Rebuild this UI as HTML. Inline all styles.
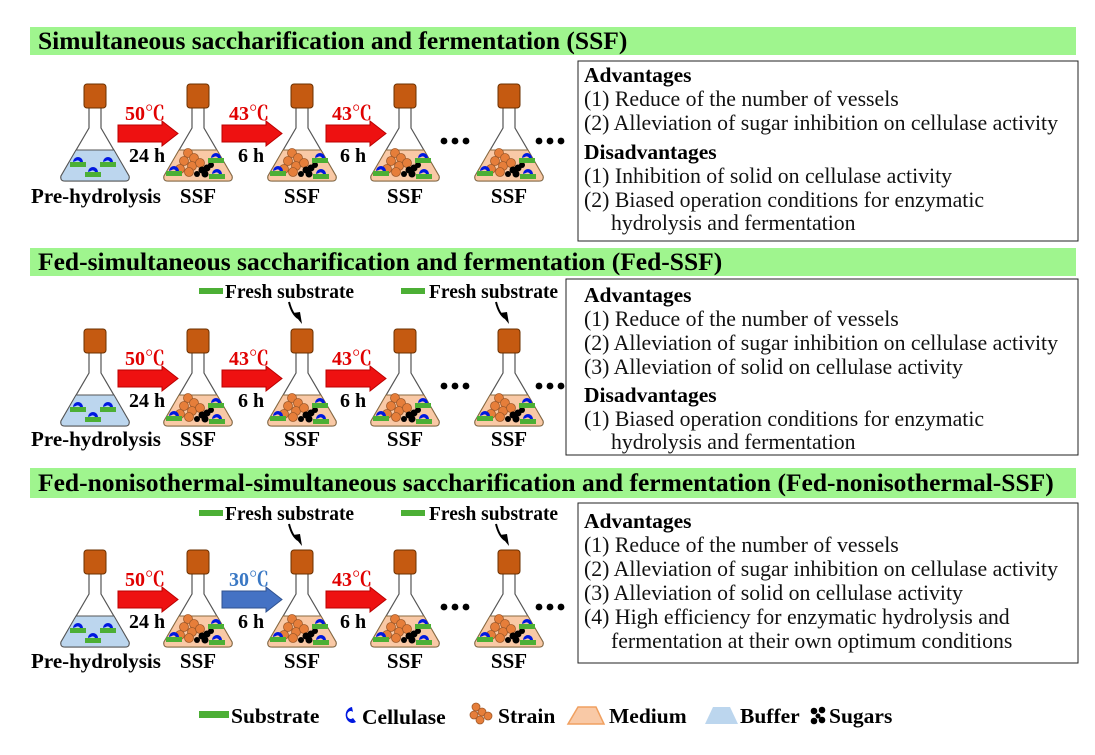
<!DOCTYPE html>
<html><head><meta charset="utf-8"><style>
body{margin:0;background:#fff}
svg text{font-family:"Liberation Serif","Noto Serif CJK SC",serif}
.h{font-size:25.5px;font-weight:bold}
.b{font-size:21.8px;fill:#111}
.bb{font-size:21.5px;font-weight:bold}
.lab{font-size:21px;font-weight:bold;text-anchor:middle}
.t{font-size:20px;font-weight:bold;fill:#e00000}
.tb{font-size:20px;font-weight:bold;fill:#3a78c4}
.hr{font-size:20px;font-weight:bold}
.fs{font-size:19.5px;font-weight:bold}
.lg{font-size:21.5px;font-weight:bold}
</style></head><body>
<svg width="1095" height="750" viewBox="0 0 1095 750" xmlns="http://www.w3.org/2000/svg">
<defs>
<g id="cap"><rect x="-11" y="-24" width="22" height="24" rx="3" fill="#c55a11" stroke="#6b3000" stroke-width="1"/></g>
<g id="body"><path d="M-6,0 L-6,20 L-34,68 Q-35,73 -30,73 L30,73 Q35,73 34,68 L6,20 L6,0" fill="#fff" stroke="#555" stroke-width="1.2"/></g>
<g id="cel"><rect x="-8" y="0" width="16" height="5" fill="#4caf35"/><path d="M-5,0 A5,5 0 1 1 5,0 L2,0 A2.5,2.5 0 0 0 -2,-1 Z" fill="#0018e0"/></g>
<g id="fB"><use href="#body"/><path d="M-19,42 L-34,68 Q-35,73 -30,73 L30,73 Q35,73 34,68 L19,42 Z" fill="#bcd6ee" stroke="#555" stroke-width="1"/><use href="#cap"/>
<use href="#cel" x="-17" y="54"/><use href="#cel" x="13" y="54"/><use href="#cel" x="-2" y="64"/></g>
<g id="fM"><use href="#body"/><path d="M-19,42 L-34,68 Q-35,73 -30,73 L30,73 Q35,73 34,68 L19,42 Z" fill="#f9c9a6" stroke="#8a6a40" stroke-width="1"/><use href="#cap"/>
<g fill="#e67e3a" stroke="#a05a2a" stroke-width="0.8"><circle cx="-10" cy="45" r="4.5"/><circle cx="-4" cy="50" r="4.5"/><circle cx="-14" cy="53" r="4.5"/><circle cx="-6" cy="58" r="4.5"/><circle cx="2" cy="55" r="4.5"/><circle cx="-18" cy="61" r="4.5"/><circle cx="-9" cy="64" r="4.5"/></g>
<g fill="#000"><circle cx="4" cy="62" r="3.5"/><circle cx="9" cy="60" r="3.5"/><circle cx="7" cy="66" r="3.5"/><circle cx="13" cy="57" r="3"/><circle cx="-1" cy="66" r="3"/></g>
<use href="#cel" x="18" y="50"/><use href="#cel" x="-24" y="63"/><use href="#cel" x="19" y="66"/></g>
<g id="arR"><path d="M0,-8.5 L44,-8.5 L44,-12.5 L60,0 L44,12.5 L44,8.5 L0,8.5 Z" fill="#ee1111" stroke="#b00" stroke-width="1"/></g>
<g id="arB"><path d="M0,-8.5 L44,-8.5 L44,-12.5 L60,0 L44,12.5 L44,8.5 L0,8.5 Z" fill="#4472c4" stroke="#2f528f" stroke-width="1"/></g>
<g id="dots"><circle cx="0" cy="0" r="3.4"/><circle cx="11" cy="0" r="3.4"/><circle cx="22" cy="0" r="3.4"/></g>
</defs>

<rect x="30" y="27" width="1046" height="28" fill="#9ff58e"/>
<text class="h" x="38" y="49">Simultaneous saccharification and fermentation (SSF)</text>
<rect x="30" y="248" width="1046" height="28" fill="#9ff58e"/>
<text class="h" x="38" y="270">Fed-simultaneous saccharification and fermentation (Fed-SSF)</text>
<rect x="30" y="468" width="1046" height="30" fill="#9ff58e"/>
<text class="h" x="38" y="491">Fed-nonisothermal-simultaneous saccharification and fermentation (Fed-nonisothermal-SSF)</text>

<g transform="translate(0,108)">
<use href="#fB" x="95"/><use href="#fM" x="198"/><use href="#fM" x="302"/><use href="#fM" x="405"/><use href="#fM" x="509"/>
<use href="#arR" x="118" y="25.5"/><use href="#arR" x="222" y="25.5"/><use href="#arR" x="326" y="25.5"/>
<text class="t" x="125" y="12">50℃</text><text class="t" x="229" y="12">43℃</text><text class="t" x="332" y="12">43℃</text>
<text class="hr" x="129" y="54">24 h</text><text class="hr" x="238" y="54">6 h</text><text class="hr" x="340" y="54">6 h</text>
<use href="#dots" x="444" y="33"/><use href="#dots" x="539" y="33"/>
<text class="lab" x="96" y="95">Pre-hydrolysis</text><text class="lab" x="198" y="95">SSF</text><text class="lab" x="302" y="95">SSF</text><text class="lab" x="405" y="95">SSF</text><text class="lab" x="509" y="95">SSF</text>
</g>
<rect x="578" y="61" width="500" height="180" fill="#fff" stroke="#222" stroke-width="1"/>
<text class="bb" x="584" y="82">Advantages</text>
<text class="b" x="584" y="106">(1) Reduce of the number of vessels</text>
<text class="b" x="584" y="130">(2) Alleviation of sugar inhibition on cellulase activity</text>
<text class="bb" x="584" y="159">Disadvantages</text>
<text class="b" x="584" y="183">(1) Inhibition of solid on cellulase activity</text>
<text class="b" x="584" y="207">(2) Biased operation conditions for enzymatic</text>
<text class="b" x="611" y="230">hydrolysis and fermentation</text>

<g transform="translate(0,353)">
<use href="#fB" x="95"/><use href="#fM" x="198"/><use href="#fM" x="302"/><use href="#fM" x="405"/><use href="#fM" x="509"/>
<use href="#arR" x="118" y="25.5"/><use href="#arR" x="222" y="25.5"/><use href="#arR" x="326" y="25.5"/>
<text class="t" x="125" y="12">50℃</text><text class="t" x="229" y="12">43℃</text><text class="t" x="332" y="12">43℃</text>
<text class="hr" x="129" y="54">24 h</text><text class="hr" x="238" y="54">6 h</text><text class="hr" x="340" y="54">6 h</text>
<use href="#dots" x="444" y="33"/><use href="#dots" x="539" y="33"/>
<text class="lab" x="96" y="93">Pre-hydrolysis</text><text class="lab" x="198" y="93">SSF</text><text class="lab" x="302" y="93">SSF</text><text class="lab" x="405" y="93">SSF</text><text class="lab" x="509" y="93">SSF</text>
</g>
<g>
<rect x="199" y="288" width="24" height="6" fill="#4caf35"/><text class="fs" x="225" y="298">Fresh substrate</text>
<rect x="401" y="288" width="24" height="6" fill="#4caf35"/><text class="fs" x="429" y="298">Fresh substrate</text>
<path d="M289,302 Q292,314 298,318" fill="none" stroke="#000" stroke-width="2"/><path d="M293,313 L302,324 L300,312 Z" fill="#000"/>
<path d="M496,302 Q499,314 505,318" fill="none" stroke="#000" stroke-width="2"/><path d="M500,313 L509,324 L507,312 Z" fill="#000"/>
</g>
<rect x="566" y="279" width="512" height="176" fill="#fff" stroke="#222" stroke-width="1"/>
<text class="bb" x="584" y="302">Advantages</text>
<text class="b" x="584" y="326">(1) Reduce of the number of vessels</text>
<text class="b" x="584" y="350">(2) Alleviation of sugar inhibition on cellulase activity</text>
<text class="b" x="584" y="374">(3) Alleviation of solid on cellulase activity</text>
<text class="bb" x="584" y="402">Disadvantages</text>
<text class="b" x="584" y="426">(1) Biased operation conditions for enzymatic</text>
<text class="b" x="611" y="449">hydrolysis and fermentation</text>

<g transform="translate(0,574)">
<use href="#fB" x="95"/><use href="#fM" x="198"/><use href="#fM" x="302"/><use href="#fM" x="405"/><use href="#fM" x="509"/>
<use href="#arR" x="118" y="25.5"/><use href="#arB" x="222" y="25.5"/><use href="#arR" x="326" y="25.5"/>
<text class="t" x="125" y="12">50℃</text><text class="tb" x="229" y="12">30℃</text><text class="t" x="332" y="12">43℃</text>
<text class="hr" x="129" y="54">24 h</text><text class="hr" x="238" y="54">6 h</text><text class="hr" x="340" y="54">6 h</text>
<use href="#dots" x="444" y="33"/><use href="#dots" x="539" y="33"/>
<text class="lab" x="96" y="94">Pre-hydrolysis</text><text class="lab" x="198" y="94">SSF</text><text class="lab" x="302" y="94">SSF</text><text class="lab" x="405" y="94">SSF</text><text class="lab" x="509" y="94">SSF</text>
</g>
<g>
<rect x="199" y="510" width="24" height="6" fill="#4caf35"/><text class="fs" x="225" y="520">Fresh substrate</text>
<rect x="401" y="510" width="24" height="6" fill="#4caf35"/><text class="fs" x="429" y="520">Fresh substrate</text>
<path d="M289,524 Q292,536 298,540" fill="none" stroke="#000" stroke-width="2"/><path d="M293,535 L302,546 L300,534 Z" fill="#000"/>
<path d="M496,524 Q499,536 505,540" fill="none" stroke="#000" stroke-width="2"/><path d="M500,535 L509,546 L507,534 Z" fill="#000"/>
</g>
<rect x="578" y="503" width="500" height="160" fill="#fff" stroke="#222" stroke-width="1"/>
<text class="bb" x="584" y="528">Advantages</text>
<text class="b" x="584" y="552">(1) Reduce of the number of vessels</text>
<text class="b" x="584" y="576">(2) Alleviation of sugar inhibition on cellulase activity</text>
<text class="b" x="584" y="600">(3) Alleviation of solid on cellulase activity</text>
<text class="b" x="584" y="624">(4) High efficiency for enzymatic hydrolysis and</text>
<text class="b" x="611" y="648">fermentation at their own optimum conditions</text>

<rect x="199" y="711" width="30" height="7" fill="#4caf35"/>
<text class="lg" x="231" y="723">Substrate</text>
<path d="M352,707 A7,8 0 1 0 356,722 L353,718 A3.5,4 0 1 1 353,712 Z" fill="#0018e0"/>
<text class="lg" x="362" y="724">Cellulase</text>
<g fill="#e67e3a" stroke="#a05a2a" stroke-width="0.8"><circle cx="476" cy="707" r="4"/><circle cx="482" cy="712" r="4"/><circle cx="474" cy="715" r="4"/><circle cx="480" cy="720" r="4"/><circle cx="488" cy="716" r="4"/></g>
<text class="lg" x="498" y="723">Strain</text>
<path d="M578,707 L596,707 L604,724 L568,724 Z" fill="#f9c9a6" stroke="#f0a060" stroke-width="1.5"/>
<text class="lg" x="609" y="723">Medium</text>
<path d="M713,707 L730,707 L738,724 L705,724 Z" fill="#bcd6ee"/>
<text class="lg" x="740" y="723">Buffer</text>
<g fill="#000"><circle cx="814" cy="711" r="3.3"/><circle cx="822" cy="710" r="3.3"/><circle cx="818" cy="716" r="2.5"/><circle cx="814" cy="721" r="3.3"/><circle cx="822" cy="720" r="3.3"/></g>
<text class="lg" x="829" y="723">Sugars</text>
</svg>
</body></html>
